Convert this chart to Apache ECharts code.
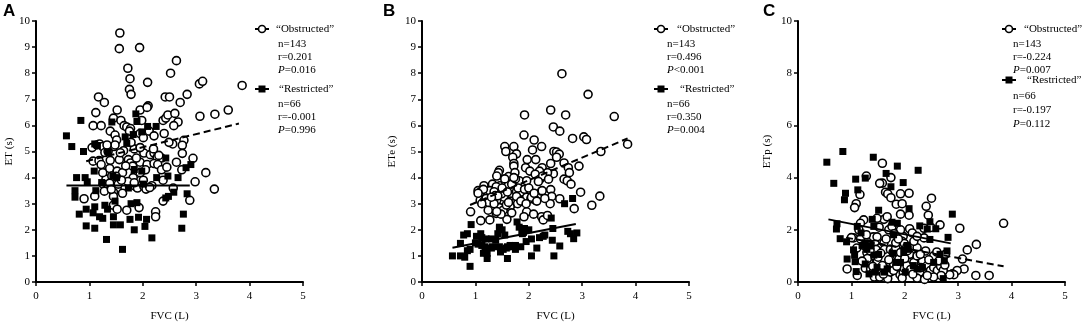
<!DOCTYPE html>
<html>
<head>
<meta charset="utf-8">
<script src="https://cdn.jsdelivr.net/npm/echarts@6/dist/echarts.min.js"></script>
<style>
  html, body { margin: 0; padding: 0; background: #fff; }
  #chart { width: 1084px; height: 327px; }
</style>
</head>
<body>
<div id="chart"></div>
<script>
// FVC (L) vs ET / ETe / ETp (s)
var xTicks = [0, 1, 2, 3, 4, 5];
var panelNames = ['ET (s)', 'ETe (s)', 'ETp (s)'];
var groupNames = ['\u201cObstructed\u201d', '\u201cRestricted\u201d'];
var statsObstructed = [['n=143', 'r=0.201', '=0.016'], ['n=143', 'r=0.496', '<0.001'], ['n=143', 'r=-0.224', '=0.007']];
var statsRestricted = [['n=66', 'r=-0.001', '=0.996'], ['n=66', 'r=0.350', '=0.004'], ['n=66', 'r=-0.197', '=0.112']];

// panel A
var obstructedA = [[1.57,9.54],[1.56,8.94],[1.94,8.98],[2.63,8.48],[1.72,8.19],[2.52,8.0],[1.76,7.79],[2.09,7.65],[1.75,7.38],[1.78,7.19],
  [1.17,7.09],[1.28,6.88],[2.42,7.09],[2.5,7.09],[2.83,7.19],[3.06,7.59],[3.12,7.69],[3.86,7.53],[1.12,6.49],[1.52,6.59],
  [1.95,6.59],[2.1,6.75],[2.08,6.69],[2.7,6.88],[1.07,5.99],[1.22,5.99],[1.45,6.28],[1.59,6.19],[1.65,5.99],[1.7,5.94],
  [1.77,5.88],[1.98,6.19],[2.38,6.19],[2.43,6.28],[2.47,6.4],[2.6,6.46],[2.66,6.13],[2.58,5.99],[3.07,6.35],[3.35,6.43],
  [3.6,6.59],[1.39,5.78],[1.48,5.63],[1.51,5.44],[1.75,5.78],[1.95,5.69],[2.01,5.53],[2.12,5.78],[2.21,5.6],[2.4,5.69],
  [2.56,5.29],[2.49,5.35],[2.77,5.43],[2.74,5.24],[1.05,5.15],[1.14,5.25],[1.19,5.29],[1.25,5.19],[1.46,5.19],[1.48,5.25],
  [1.29,4.96],[1.35,5.0],[1.64,5.03],[1.84,5.1],[1.95,5.14],[2.02,4.94],[2.14,4.88],[2.21,4.94],[2.27,4.78],[2.35,4.75],
  [2.74,4.93],[2.94,4.74],[1.07,4.63],[1.18,4.65],[1.39,4.66],[1.56,4.69],[1.73,4.69],[1.77,4.56],[1.81,4.44],[1.95,4.59],
  [2.08,4.5],[2.21,4.54],[2.28,4.5],[2.35,4.3],[2.63,4.59],[1.38,4.35],[1.52,4.25],[1.62,4.19],[1.86,4.13],[1.95,4.19],
  [2.73,4.3],[3.18,4.19],[1.31,3.94],[1.42,4.06],[1.47,3.9],[1.82,4.0],[2.01,3.9],[2.38,3.9],[2.98,3.84],[1.26,3.75],
  [1.35,3.63],[1.38,3.79],[1.52,3.6],[1.54,3.75],[1.86,3.66],[1.9,3.6],[2.02,3.66],[2.06,3.56],[2.17,3.69],[2.57,3.6],
  [3.34,3.56],[1.28,3.48],[1.45,3.44],[1.62,3.4],[1.1,3.29],[1.45,3.28],[0.9,3.19],[2.88,3.13],[1.45,2.94],[1.52,2.79],
  [1.7,2.75],[1.93,2.85],[2.24,2.69],[2.24,2.5],[2.38,3.1],[1.25,4.19],[1.33,5.25],[1.58,4.95],[1.68,4.45],[1.72,3.85],
  [1.41,3.55],[1.6,3.9],[1.88,4.75],[2.05,4.3],[2.3,4.85],[2.13,3.62],[1.22,4.5],[1.5,4.05],[1.95,5.15],[2.2,5.1],
  [1.78,5.35],[1.84,3.8],[2.45,4.4]];
var restrictedA = [[0.57,5.6],[0.67,5.19],[0.84,6.19],[0.89,5.0],[0.76,4.0],[0.92,4.0],[0.96,3.84],[0.73,3.5],[0.73,3.25],[0.81,2.6],
  [0.94,2.79],[0.94,2.15],[1.09,4.25],[1.1,5.29],[1.15,5.23],[1.12,3.5],[1.1,2.88],[1.07,2.65],[1.1,2.06],[1.19,2.5],
  [1.25,2.44],[1.23,3.81],[1.29,2.94],[1.34,2.79],[1.32,1.63],[1.35,4.98],[1.42,6.13],[1.44,4.06],[1.45,2.5],[1.45,2.19],
  [1.48,3.1],[1.51,4.0],[1.58,2.19],[1.62,1.25],[1.67,5.56],[1.7,5.31],[1.73,3.6],[1.76,2.4],[1.78,3.0],[1.82,5.65],
  [1.84,4.31],[1.87,6.44],[1.89,6.15],[1.89,3.04],[1.84,2.0],[1.92,2.48],[1.98,5.75],[1.98,4.25],[2.01,3.75],[2.04,2.13],
  [2.07,2.4],[2.09,5.96],[2.17,1.69],[2.25,5.96],[2.26,4.0],[2.43,4.75],[2.47,4.06],[2.43,3.22],[2.48,3.28],[2.58,3.44],
  [2.66,4.0],[2.73,2.06],[2.76,2.6],[2.81,4.38],[2.9,4.5],[2.83,3.38]];
var fitObstructedA = [[0.94,4.63],[3.8,6.07]];
var fitRestrictedA = [[0.57,3.7],[2.88,3.7]];

// panel B
var obstructedB = [[2.62,7.98],[3.11,7.19],[3.6,6.34],[1.92,6.4],[2.41,6.59],[2.69,6.4],[2.46,5.94],[2.58,5.78],[1.91,5.63],[2.82,5.5],
  [3.03,5.56],[3.08,5.46],[3.85,5.28],[3.35,5.0],[2.1,5.44],[2.24,5.19],[1.72,5.19],[1.55,5.19],[1.57,5.0],[2.07,5.06],
  [1.77,4.91],[1.7,4.78],[2.47,5.0],[2.52,4.98],[2.57,4.9],[2.52,4.78],[1.97,4.69],[2.13,4.69],[2.66,4.56],[2.41,4.54],
  [1.94,4.38],[2.02,4.25],[2.25,4.38],[1.72,4.54],[1.72,4.44],[2.74,4.38],[2.94,4.44],[2.76,4.19],[2.46,4.15],[2.35,4.19],
  [2.2,4.25],[2.12,4.13],[1.45,4.28],[1.43,4.19],[1.4,4.06],[1.62,4.04],[1.74,4.19],[1.82,3.88],[1.96,3.88],[2.21,3.94],
  [2.26,4.06],[2.37,3.94],[2.66,3.94],[2.72,3.88],[2.79,3.75],[1.46,3.69],[1.57,3.81],[1.62,3.73],[1.16,3.69],[1.32,3.75],
  [1.39,3.65],[1.05,3.5],[1.1,3.46],[1.27,3.5],[1.35,3.46],[1.59,3.44],[1.77,3.46],[1.87,3.44],[1.99,3.53],[2.24,3.48],
  [2.41,3.54],[2.43,3.28],[2.97,3.44],[3.33,3.29],[1.09,3.13],[1.16,3.1],[1.21,3.0],[1.3,2.9],[1.4,3.13],[1.54,3.25],
  [1.65,3.1],[1.7,3.0],[1.79,3.0],[1.9,3.15],[1.96,3.25],[2.04,3.19],[2.13,3.13],[2.4,3.0],[2.58,3.19],[3.18,2.94],
  [1.45,2.85],[1.52,2.75],[1.65,2.88],[1.24,2.75],[0.91,2.69],[1.39,2.63],[1.68,2.65],[1.96,2.69],[2.09,2.6],[1.91,2.5],
  [2.24,2.5],[2.27,2.38],[1.27,2.38],[1.59,2.4],[1.1,2.35],[2.85,2.81],[1.37,3.31],[1.77,3.28],[1.49,3.38],[1.15,3.55],
  [1.2,3.2],[1.25,3.05],[1.35,3.0],[1.42,3.3],[1.5,3.6],[1.55,3.95],[1.6,3.45],[1.68,3.75],[1.75,3.95],[1.8,3.6],
  [1.85,3.1],[1.92,3.55],[2.0,3.6],[2.05,3.25],[2.1,3.4],[2.15,3.1],[1.3,3.25],[1.48,2.6],[1.58,2.95],[1.62,3.05],
  [1.12,3.0],[1.05,3.4],[2.25,3.5],[2.3,3.2],[2.18,3.85],[1.72,4.0],[1.95,3.0],[1.4,2.7],[2.35,2.55]];
var restrictedB = [[0.57,1.0],[0.72,1.48],[0.78,1.8],[0.85,1.85],[0.92,2.2],[0.72,1.0],[0.8,0.95],[0.85,1.2],[0.9,1.25],[0.9,0.6],
  [1.02,1.75],[1.05,1.45],[1.12,1.4],[1.12,1.7],[1.18,1.35],[1.2,1.65],[1.15,1.1],[1.22,1.1],[1.22,0.9],[1.3,1.3],
  [1.32,1.35],[1.3,1.65],[1.38,1.6],[1.42,1.85],[1.45,2.1],[1.45,2.05],[1.47,1.15],[1.45,1.35],[1.52,1.25],[1.55,1.8],
  [1.6,0.9],[1.65,1.4],[1.7,1.35],[1.75,1.25],[1.78,2.3],[1.82,2.1],[1.87,1.95],[1.88,1.85],[1.92,2.05],[1.75,1.4],
  [1.85,1.35],[1.95,1.55],[2.0,2.0],[2.05,1.65],[2.05,1.0],[2.15,1.3],[2.2,1.7],[2.27,1.75],[2.42,2.45],[2.44,1.6],
  [2.47,1.0],[2.45,2.05],[2.58,1.38],[2.67,3.0],[2.73,1.94],[2.78,1.85],[2.84,1.66],[2.82,3.2],[2.9,1.88],[1.0,1.5],
  [1.6,1.35],[1.9,1.9],[2.3,1.8],[1.5,2.0],[1.1,1.85],[1.58,1.3]];
var fitObstructedB = [[0.9,2.95],[3.85,5.5]];
var fitRestrictedB = [[0.57,1.31],[2.88,2.22]];

// panel C
var obstructedC = [[1.58,4.55],[1.28,4.06],[1.74,4.0],[1.58,3.79],[1.53,3.78],[1.16,3.35],[1.09,3.0],[1.06,2.85],[1.64,3.44],[1.68,3.38],
  [1.74,3.23],[1.84,2.98],[1.92,3.38],[1.95,3.0],[2.08,3.4],[1.92,2.6],[2.08,2.56],[2.5,3.21],[2.4,2.9],[2.44,2.56],
  [2.66,2.19],[2.36,2.06],[2.49,2.09],[3.03,2.06],[3.85,2.25],[2.09,2.04],[2.14,1.88],[1.97,1.75],[1.95,1.56],[1.99,1.48],
  [1.7,2.0],[1.61,2.4],[1.48,2.44],[1.67,2.5],[1.76,2.13],[1.23,2.38],[1.17,2.25],[1.14,2.0],[1.04,1.69],[1.17,1.65],
  [1.33,1.44],[1.29,1.13],[1.23,1.4],[1.41,1.73],[1.48,1.73],[1.45,1.44],[1.54,1.31],[1.61,1.5],[1.62,1.25],[1.73,1.25],
  [1.78,1.13],[1.83,1.31],[1.86,1.0],[1.89,0.88],[2.04,1.35],[2.09,1.06],[2.23,1.31],[2.39,1.19],[2.33,0.81],[2.28,0.38],
  [2.23,0.15],[2.37,0.1],[2.76,1.06],[3.08,0.88],[3.17,1.23],[3.34,1.44],[3.11,0.5],[2.98,0.44],[2.89,0.31],[2.92,0.28],
  [2.84,0.28],[3.33,0.25],[3.58,0.25],[0.92,0.5],[1.11,0.25],[1.28,1.81],[1.26,0.53],[1.33,0.75],[1.36,0.5],[1.41,0.38],
  [1.43,0.19],[1.53,0.19],[1.48,0.75],[1.64,0.5],[1.68,0.13],[1.73,0.38],[1.79,0.69],[1.91,0.28],[1.97,0.35],[1.99,0.53],
  [2.04,0.63],[2.11,0.48],[2.17,0.75],[2.23,1.0],[2.42,0.63],[2.48,0.44],[2.54,0.56],[2.61,0.44],[2.67,0.6],[2.72,0.44],
  [2.68,0.25],[2.54,0.19],[2.42,0.25],[2.54,1.0],[2.64,0.81],[2.29,1.06],[1.79,0.44],[1.58,0.63],[1.39,1.0],[1.46,1.25],
  [2.17,1.56],[2.36,1.69],[2.23,1.75],[1.92,2.0],[1.92,1.13],[1.83,1.5],[1.3,0.9],[1.5,0.95],[1.7,0.85],[1.85,0.6],
  [2.0,0.9],[2.15,0.3],[2.3,0.55],[1.55,1.1],[1.35,1.2],[1.65,1.65],[1.8,1.85],[2.05,1.2],[2.6,1.15],[1.2,0.8],
  [1.4,0.6],[1.6,0.3],[1.95,0.15],[2.45,0.85],[1.1,1.3],[2.75,0.65],[1.88,1.65],[1.52,2.1],[1.0,1.7]];
var restrictedC = [[0.54,4.59],[0.67,3.78],[0.84,5.0],[0.89,3.4],[0.87,3.15],[0.73,2.23],[0.72,2.03],[0.79,1.66],[0.91,1.54],[0.92,0.88],
  [1.04,1.23],[1.06,1.03],[1.07,0.78],[1.09,0.4],[1.11,2.13],[1.12,3.53],[1.08,3.94],[1.26,3.98],[1.18,1.88],[1.26,1.5],
  [1.2,1.4],[1.29,1.25],[1.33,0.31],[1.41,4.78],[1.39,2.4],[1.42,2.13],[1.37,1.38],[1.42,1.03],[1.45,0.38],[1.51,2.75],
  [1.65,4.16],[1.74,3.65],[1.86,4.44],[1.76,2.29],[1.79,1.81],[1.86,2.25],[1.61,0.38],[1.78,1.1],[1.83,0.75],[1.97,3.81],
  [2.08,2.81],[2.04,1.4],[2.06,1.25],[2.16,0.63],[2.25,4.28],[2.28,2.15],[2.23,0.5],[2.42,2.03],[2.47,1.63],[2.47,2.31],
  [2.58,2.04],[2.66,1.06],[2.72,0.13],[2.74,0.81],[2.81,1.71],[2.79,1.19],[2.89,2.6],[1.98,1.13],[1.92,0.75],[1.67,0.5],
  [1.48,0.56],[1.26,0.69],[2.01,0.38],[2.33,0.56],[2.54,0.75],[1.51,1.06]];
var fitObstructedC = [[0.9,1.7],[3.85,0.6]];
var fitRestrictedC = [[0.57,2.4],[2.86,1.48]];

var obstructedAll = [obstructedA, obstructedB, obstructedC];
var restrictedAll = [restrictedA, restrictedB, restrictedC];
var fitObsAll = [fitObstructedA, fitObstructedB, fitObstructedC];
var fitResAll = [fitRestrictedA, fitRestrictedB, fitRestrictedC];

var serif = '"Liberation Serif", "Times New Roman", serif';
var gridLefts = [36, 422, 798];
var yIntervals = [1, 1, 2];
var yNameGaps = [20, 24, 25];

var chart = echarts.init(document.getElementById('chart'));
var grids = [], xAxes = [], yAxes = [], series = [];

for (var i = 0; i < 3; i++) {
  grids.push({ left: gridLefts[i], top: 21, width: 267, height: 266 });
  xAxes.push({
    type: 'value', gridIndex: i, min: xTicks[0], max: xTicks[xTicks.length - 1], interval: 1,
    name: 'FVC (L)', nameLocation: 'middle', nameGap: 29,
    nameTextStyle: { fontFamily: serif, fontSize: 11, color: '#000' },
    axisLine: { lineStyle: { color: '#000', width: 2 } },
    axisTick: { length: 4, lineStyle: { color: '#000', width: 1.5 } },
    axisLabel: { margin: 9, fontFamily: serif, fontSize: 11, color: '#000' },
    splitLine: { show: false }
  });
  yAxes.push({
    type: 'value', gridIndex: i, min: 0, max: 10, interval: yIntervals[i],
    name: panelNames[i], nameLocation: 'middle', nameGap: yNameGaps[i],
    nameTextStyle: { fontFamily: serif, fontSize: 11, color: '#000' },
    axisLine: { show: true, lineStyle: { color: '#000', width: 2 } },
    axisTick: { show: true, length: 4, lineStyle: { color: '#000', width: 1.5 } },
    axisLabel: { margin: 6, fontFamily: serif, fontSize: 11, color: '#000' },
    splitLine: { show: false }
  });
  series.push({
    type: 'scatter', xAxisIndex: i, yAxisIndex: i, data: obstructedAll[i],
    symbol: 'circle', symbolSize: 8,
    itemStyle: { color: '#fff', borderColor: '#000', borderWidth: 1.6, opacity: 1 }
  });
  series.push({
    type: 'scatter', xAxisIndex: i, yAxisIndex: i, data: restrictedAll[i],
    symbol: 'rect', symbolSize: 7,
    itemStyle: { color: '#000', opacity: 1 }
  });
  series.push({
    type: 'line', xAxisIndex: i, yAxisIndex: i, data: fitObsAll[i], symbol: 'none', z: 3,
    lineStyle: { color: '#000', width: 2, type: [7, 4] }
  });
  series.push({
    type: 'line', xAxisIndex: i, yAxisIndex: i, data: fitResAll[i], symbol: 'none', z: 3,
    lineStyle: { color: '#000', width: 2 }
  });
}

// legend blocks drawn by hand: icon, group label, stats lines
var legendIcon = [262, 661, 1009];
var legendLabelX = [276, 677, 1024];
var legendStatsX = [278, 667, 1013];
var legendRowsObs = [[29, 44, 57, 70], [29, 44, 57, 70], [29, 44, 57, 70]];
var legendRowsRes = [[89, 104, 117, 130], [89, 104, 117, 130], [80, 96, 110, 124]];
var panelLetters = ['A', 'B', 'C'];
var letterX = [3, 383, 763];

var graphic = [];
function txt(x, y, text, rich) {
  return {
    type: 'text', x: x, y: y, silent: true,
    style: { text: text, fill: '#000', fontFamily: serif, fontSize: 11, verticalAlign: 'middle', rich: rich }
  };
}
for (var k = 0; k < 3; k++) {
  var c = legendIcon[k];
  var yo = legendRowsObs[k], yr = legendRowsRes[k];
  var italic = { i: { fontStyle: 'italic', fontFamily: serif, fontSize: 11, fill: '#000' } };
  graphic.push({ type: 'line', silent: true, shape: { x1: c - 7, y1: yo[0], x2: c + 7, y2: yo[0] }, style: { stroke: '#000', lineWidth: 2 } });
  graphic.push({ type: 'circle', silent: true, shape: { cx: c, cy: yo[0], r: 3.5 }, style: { fill: '#fff', stroke: '#000', lineWidth: 1.6 } });
  graphic.push(txt(legendLabelX[k], yo[0], groupNames[0]));
  graphic.push(txt(legendStatsX[k], yo[1], statsObstructed[k][0]));
  graphic.push(txt(legendStatsX[k], yo[2], statsObstructed[k][1]));
  graphic.push(txt(legendStatsX[k], yo[3], '{i|P}' + statsObstructed[k][2], italic));

  graphic.push({ type: 'line', silent: true, shape: { x1: c - 7, y1: yr[0], x2: c + 7, y2: yr[0] }, style: { stroke: '#000', lineWidth: 2 } });
  graphic.push({ type: 'rect', silent: true, shape: { x: c - 3.5, y: yr[0] - 3.5, width: 7, height: 7 }, style: { fill: '#000' } });
  graphic.push(txt(legendLabelX[k] + 3, yr[0], groupNames[1]));
  graphic.push(txt(legendStatsX[k], yr[1], statsRestricted[k][0]));
  graphic.push(txt(legendStatsX[k], yr[2], statsRestricted[k][1]));
  graphic.push(txt(legendStatsX[k], yr[3], '{i|P}' + statsRestricted[k][2], italic));

  graphic.push({
    type: 'text', x: letterX[k], y: 11, silent: true,
    style: { text: panelLetters[k], fill: '#000', fontFamily: '"Liberation Sans", Arial, sans-serif', fontWeight: 'bold', fontSize: 17, verticalAlign: 'middle' }
  });
}

chart.setOption({
  animation: false,
  backgroundColor: '#fff',
  grid: grids,
  xAxis: xAxes,
  yAxis: yAxes,
  series: series,
  graphic: graphic
});
</script>
</body>
</html>
